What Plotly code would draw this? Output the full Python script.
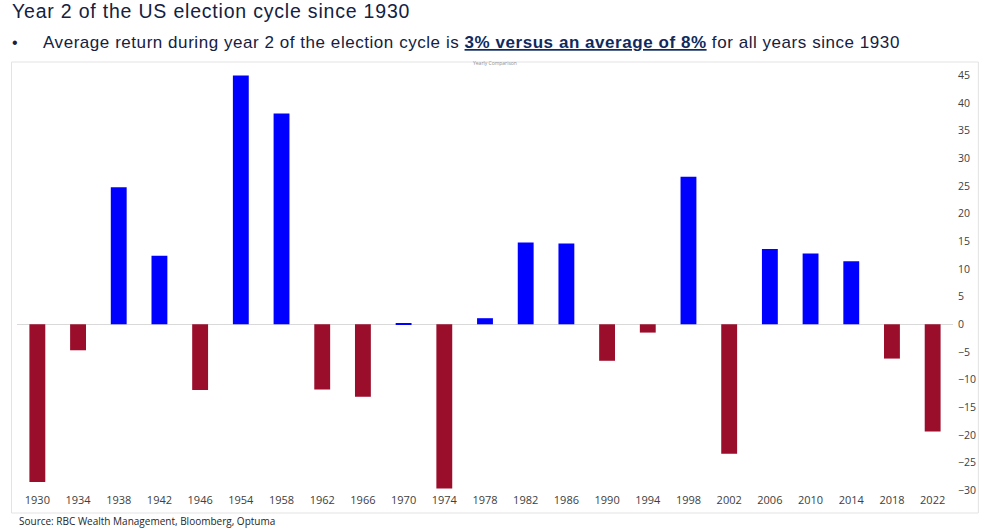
import plotly.graph_objects as go

years = ["1930", "1934", "1938", "1942", "1946", "1954", "1958", "1962", "1966", "1970",
         "1974", "1978", "1982", "1986", "1990", "1994", "1998", "2002", "2006", "2010",
         "2014", "2018", "2022"]
returns = [-28.5, -4.7, 24.8, 12.4, -11.9, 45.0, 38.1, -11.8, -13.1, 0.1,
           -29.7, 1.1, 14.8, 14.6, -6.6, -1.5, 26.7, -23.4, 13.6, 12.8,
           11.4, -6.2, -19.4]
y_ticks = list(range(-30, 50, 5))

POS = "#0000FF"
NEG = "#9A0D2B"
TXT = "#14213F"
colors = [POS if v >= 0 else NEG for v in returns]

W, H = 988, 529
ml, mr, mt, mb = 16.5, 30.5, 64, 37
pw = W - ml - mr
ph = H - mt - mb

fig = go.Figure()
fig.add_trace(go.Bar(
    x=years, y=returns, marker=dict(color=colors, line=dict(width=0)),
    hoverinfo="x+y",
))

def px_x(p):
    return (p - ml) / pw

def px_y(p):
    return 1 - (p - mt) / ph

fig.update_layout(
    width=W, height=H,
    margin=dict(l=ml, r=mr, t=mt, b=mb, pad=0),
    paper_bgcolor="white", plot_bgcolor="white",
    showlegend=False,
    bargap=0.61,
    font=dict(family="Open Sans", size=11, color="#404040"),
    xaxis=dict(
        type="category", showgrid=False, showline=False, zeroline=False,
        ticks="", tickfont=dict(family="Open Sans", size=11, color="#404040"),
    ),
    yaxis=dict(
        side="right", range=[-30.33, 47.07], tickvals=y_ticks,
        showgrid=False, showline=False, zeroline=True, zerolinecolor="#d9d9d9",
        zerolinewidth=1, ticks="", ticklabelstandoff=4,
        tickfont=dict(family="Open Sans", size=10.5, color="#404040"),
    ),
    shapes=[
        dict(type="rect", xref="paper", yref="paper",
             x0=px_x(11), x1=px_x(983), y0=px_y(513), y1=px_y(62),
             line=dict(color="#e3e3e3", width=1), fillcolor="rgba(0,0,0,0)", layer="below"),
    ],
    annotations=[
        dict(text="<span style='letter-spacing:0.8px'>Year 2 of the US election cycle since 1930</span>",
             xref="paper", yref="paper",
             x=px_x(9), y=px_y(11), xanchor="left", yanchor="middle", showarrow=False,
             font=dict(family="Liberation Sans", size=19.5, color=TXT)),
        dict(text="•", xref="paper", yref="paper",
             x=px_x(9), y=px_y(42.5), xanchor="left", yanchor="middle", showarrow=False,
             font=dict(family="Liberation Sans", size=16, color=TXT)),
        dict(text="<span style='letter-spacing:0.55px'>Average return during year 2 of the election cycle is "
                  "</span><span style='letter-spacing:0.55px;color:#0E2A5E'><b><u>3% versus an average of 8%</u></b></span>"
                  "<span style='letter-spacing:0.55px'> for all years since 1930</span>",
             xref="paper", yref="paper",
             x=px_x(41), y=px_y(42.5), xanchor="left", yanchor="middle", showarrow=False,
             font=dict(family="Liberation Sans", size=17, color=TXT)),
        dict(text="Yearly Comparison", xref="paper", yref="paper",
             x=px_x(497), y=px_y(63), xanchor="center", yanchor="middle", showarrow=False,
             font=dict(family="Open Sans", size=5, color="#909090")),
        dict(text="Source: RBC Wealth Management, Bloomberg, Optuma", xref="paper", yref="paper",
             x=px_x(16), y=px_y(521), xanchor="left", yanchor="middle", showarrow=False,
             font=dict(family="Open Sans", size=10, color="#262626")),
    ],
)

fig.write_html("out.html", config={"displayModeBar": False},
               post_script="document.body.style.margin='0';document.body.style.overflow='hidden';")
